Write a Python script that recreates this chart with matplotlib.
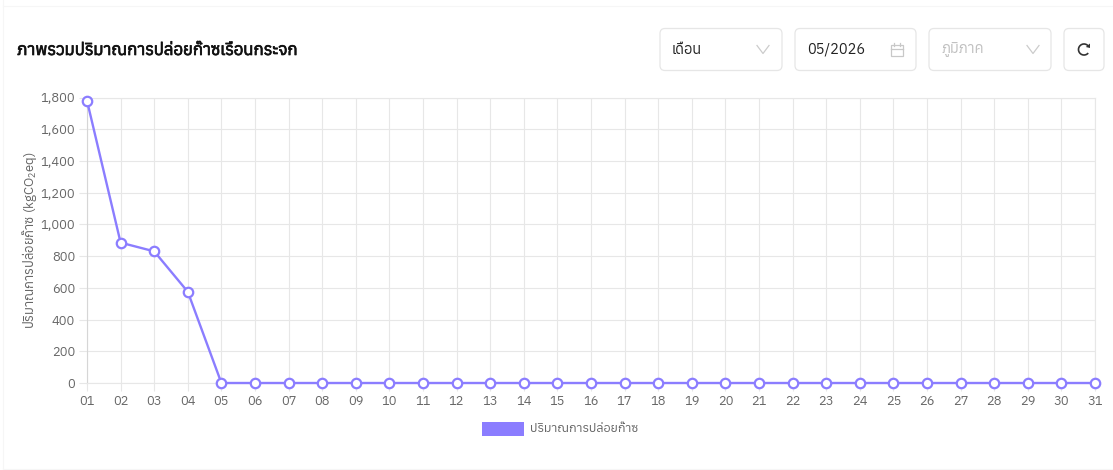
import matplotlib
matplotlib.use("Agg")
import matplotlib.pyplot as plt
import matplotlib.patheffects as pe
from matplotlib import font_manager as fm
from matplotlib.ft2font import FT2Font
from matplotlib.patches import FancyBboxPatch, Rectangle, Arc, Polygon
from matplotlib.lines import Line2D

days = [f"{d:02d}" for d in range(1, 32)]
emissions = [1780, 885, 830, 575] + [0] * 27
y_ticks = [0, 200, 400, 600, 800, 1000, 1200, 1400, 1600, 1800]
title = "ภาพรวมปริมาณการปล่อยก๊าซเรือนกระจก"
y_label = "ปริมาณการปล่อยก๊าซ (kgCO$_2$eq)"
legend_label = "ปริมาณการปล่อยก๊าซ"
period = "เดือน"
date_value = "05/2026"
region = "ภูมิภาค"

thai = []
for f in fm.fontManager.ttflist:
    try:
        if 0x0E01 in FT2Font(f.fname).get_charmap():
            thai.append(f.name)
    except Exception:
        pass
thai = sorted(set(thai))
plt.rcParams["font.family"] = (thai[:1] if thai else []) + ["Noto Sans", "DejaVu Sans"]
plt.rcParams["mathtext.fontset"] = "custom"
plt.rcParams["mathtext.rm"] = "Noto Sans"
plt.rcParams["mathtext.default"] = "regular"

W, H = 1113, 470
fig = plt.figure(figsize=(W / 100, H / 100), dpi=100, facecolor="white")

ui = fig.add_axes([0, 0, 1, 1])
ui.set_xlim(0, W)
ui.set_ylim(H, 0)
ui.axis("off")

ax = fig.add_axes([87 / W, 1 - 383 / H, (1095 - 87) / W, (383 - 97.5) / H])
ax.patch.set_alpha(0)
purple = "#8b7dff"
grid = "#e7e7e7"
text_c = "#666666"
x = list(range(len(days)))
ax.plot(x, emissions, color=purple, lw=1.7, marker="o", ms=6.8, mfc="white",
        mec=purple, mew=1.6, clip_on=False, zorder=5)
ax.set_xlim(0, 30)
ax.set_ylim(0, 1800)
ax.set_xticks(x, days)
ax.set_yticks(y_ticks, [f"{v:,}" for v in y_ticks])
ax.grid(True, color=grid, lw=0.8)
ax.set_axisbelow(True)
for s in ("top", "right", "bottom"):
    ax.spines[s].set_color(grid)
    ax.spines[s].set_linewidth(0.8)
ax.spines["left"].set_color("#d6d6d6")
ax.spines["left"].set_linewidth(0.8)
ax.tick_params(axis="both", length=5.5, color=grid, width=0.8, labelsize=9.3,
               labelcolor=text_c, pad=3)
ax.set_ylabel(y_label, fontsize=9.4, color=text_c)
ax.yaxis.set_label_coords((39 - 87) / (1095 - 87), 0.50)

ui.text(17, 50, title, fontsize=12.1, color="#111111", va="center",
        path_effects=[pe.withStroke(linewidth=0.5, foreground="#111111")])

# faint card edges
for xs, ys in (([3, 3], [0, 468.5]), ([3, W], [468.5, 468.5]), ([3, W], [6, 6])):
    ui.add_line(Line2D(xs, ys, color="#f6f6f6", lw=0.8))


def box(x0, x1, y0=28.5, y1=70.5):
    ui.add_patch(FancyBboxPatch((x0 + 5, y0 + 5), x1 - x0 - 10, y1 - y0 - 10,
                                boxstyle="round,pad=5,rounding_size=5",
                                fc="white", ec="#e6e6e6", lw=0.9))


def chevron(cx, cy, c="#cccccc"):
    ui.add_line(Line2D([cx - 6, cx, cx + 6], [cy - 4, cy + 4, cy - 4], color=c, lw=0.9))


box(660, 782)
box(795, 916)
box(929, 1051)
box(1064, 1104)
ui.text(672, 50, period, fontsize=10.5, color="#222222", va="center")
ui.text(807, 50, date_value, fontsize=10.5, color="#222222", va="center")
ui.text(941, 50, region, fontsize=10.5, color="#c0c0c0", va="center")
chevron(763, 49.5)
chevron(1033, 49.5)

# calendar glyph
ui.add_patch(Rectangle((891, 45), 12, 11, fc="none", ec="#c8c8c8", lw=0.9))
ui.add_line(Line2D([891, 903], [48.5, 48.5], color="#c8c8c8", lw=0.9))
for cx in (894, 900):
    ui.add_line(Line2D([cx, cx], [43, 46], color="#c8c8c8", lw=0.9))

# refresh glyph
ui.add_patch(Arc((1084, 49.5), 11, 11, theta1=40, theta2=320, ec="#333333", lw=1.2))
ui.add_patch(Polygon([(1090, 43.5), (1090, 48), (1085.8, 47)], fc="#333333", ec="none"))

ui.add_patch(Rectangle((482, 421.5), 42, 14.5, fc=purple, ec="none"))
ui.text(530, 428, legend_label, fontsize=9, color=text_c, va="center")

fig.savefig("out.png", dpi=100)
